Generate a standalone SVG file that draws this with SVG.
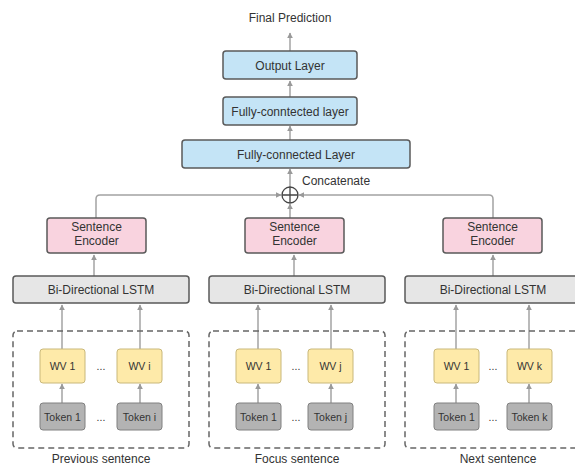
<svg xmlns="http://www.w3.org/2000/svg" width="575" height="463" viewBox="0 0 575 463">
<defs>
<style>
text{font-family:"Liberation Sans",Arial,sans-serif;fill:#333;text-anchor:middle}
.t12{font-size:12px}
.t11{font-size:11px}
.t10{font-size:10.5px}
.box{stroke:#5a5a5a;stroke-width:1.5}
.blue{fill:#c4e4f6}
.pink{fill:#f9d3df}
.lstm{fill:#e6e6e6}
.wv{fill:#feeaa9;stroke:#c9b87a;stroke-width:1}
.tok{fill:#b3b3b3;stroke:#808080;stroke-width:1}
.dash{fill:none;stroke:#666;stroke-width:1.5;stroke-dasharray:6 4}
.conn{fill:none;stroke:#a3a3a3;stroke-width:1.5;marker-end:url(#ah)}
</style>
<marker id="ah" viewBox="0 0 10 10" refX="9" refY="5" markerWidth="6" markerHeight="6" markerUnits="userSpaceOnUse" orient="auto">
<path d="M0,0 L10,5 L0,10 z" fill="#999"/>
</marker>
</defs>
<rect width="575" height="463" fill="#fff"/>

<g id="connectors">
<path class="conn" d="M290,51 V33"/>
<path class="conn" d="M290,97 V81"/>
<path class="conn" d="M290,140 V126"/>
<path class="conn" d="M290,187 V169"/>
<path class="conn" d="M96,218 V199 Q96,195 100,195 H281"/>
<path class="conn" d="M493,218 V199 Q493,195 489,195 H299"/>
<path class="conn" d="M290,218 V204"/>
<path class="conn" d="M94,276 V255"/>
<path class="conn" d="M294,276 V255"/>
<path class="conn" d="M493,276 V255"/>
<path class="conn" d="M62,349 V305"/>
<path class="conn" d="M140,349 V305"/>
<path class="conn" d="M258,349 V305"/>
<path class="conn" d="M331,349 V305"/>
<path class="conn" d="M456,349 V305"/>
<path class="conn" d="M529,349 V305"/>
<path class="conn" d="M62,403 V384"/>
<path class="conn" d="M140,403 V384"/>
<path class="conn" d="M258,403 V384"/>
<path class="conn" d="M331,403 V384"/>
<path class="conn" d="M456,403 V384"/>
<path class="conn" d="M529,403 V384"/>
</g>

<g id="final-prediction"><text class="t12" x="290" y="22">Final Prediction</text></g>
<g id="output-layer"><rect class="box blue" x="223" y="51" width="134" height="28" rx="3"/><text class="t12" x="290" y="69.5">Output Layer</text></g>
<g id="fc-layer-small"><rect class="box blue" x="223" y="97" width="134" height="28" rx="3"/><text class="t12" x="290" y="115.5">Fully-conntected layer</text></g>
<g id="fc-layer"><rect class="box blue" x="182" y="140" width="228" height="28" rx="3"/><text class="t12" x="296" y="158.5">Fully-connected Layer</text></g>
<g id="concat">
<circle cx="290" cy="195" r="8" fill="#fff" stroke="#444" stroke-width="1.3"/>
<path d="M282,195 H298 M290,187 V203" stroke="#444" stroke-width="1.3"/>
<text class="t12" x="302" y="185" style="text-anchor:start">Concatenate</text>
</g>

<g id="se-prev"><rect class="box pink" x="47" y="218" width="99" height="35" rx="3"/><text class="t12" x="96.5" y="231">Sentence</text><text class="t12" x="96.5" y="245">Encoder</text></g>
<g id="se-focus"><rect class="box pink" x="245" y="218" width="99" height="35" rx="3"/><text class="t12" x="294.5" y="231">Sentence</text><text class="t12" x="294.5" y="245">Encoder</text></g>
<g id="se-next"><rect class="box pink" x="443" y="218" width="99" height="35" rx="3"/><text class="t12" x="492.5" y="231">Sentence</text><text class="t12" x="492.5" y="245">Encoder</text></g>

<g id="lstm-prev"><rect class="box lstm" x="13" y="276" width="176" height="27" rx="3"/><text class="t12" x="101" y="293.5">Bi-Directional LSTM</text></g>
<g id="lstm-focus"><rect class="box lstm" x="209" y="276" width="176" height="27" rx="3"/><text class="t12" x="297" y="293.5">Bi-Directional LSTM</text></g>
<g id="lstm-next"><rect class="box lstm" x="405" y="276" width="176" height="27" rx="3"/><text class="t12" x="493" y="293.5">Bi-Directional LSTM</text></g>

<g id="prev-sentence">
<rect class="dash" x="13" y="331" width="176" height="117" rx="4"/>
<text class="t12" x="101" y="463">Previous sentence</text>
</g>
<g id="focus-sentence">
<rect class="dash" x="209" y="331" width="176" height="117" rx="4"/>
<text class="t12" x="297" y="463">Focus sentence</text>
</g>
<g id="next-sentence">
<rect class="dash" x="405" y="331" width="176" height="117" rx="4"/>
<text class="t12" x="498" y="463">Next sentence</text>
</g>

<g id="wv-prev-1"><rect class="wv" x="40" y="349" width="45" height="34" rx="3"/><text class="t10" x="62.5" y="370">WV 1</text></g>
<g id="wv-prev-i"><rect class="wv" x="117" y="349" width="45" height="34" rx="3"/><text class="t10" x="139.5" y="370">WV i</text></g>
<g id="wv-focus-1"><rect class="wv" x="236" y="349" width="45" height="34" rx="3"/><text class="t10" x="258.5" y="370">WV 1</text></g>
<g id="wv-focus-j"><rect class="wv" x="308" y="349" width="45" height="34" rx="3"/><text class="t10" x="330.5" y="370">WV j</text></g>
<g id="wv-next-1"><rect class="wv" x="434" y="349" width="45" height="34" rx="3"/><text class="t10" x="456.5" y="370">WV 1</text></g>
<g id="wv-next-k"><rect class="wv" x="507" y="349" width="45" height="34" rx="3"/><text class="t10" x="529.5" y="370">WV k</text></g>

<g id="tok-prev-1"><rect class="tok" x="40" y="403" width="45" height="27" rx="3"/><text class="t10" x="62.5" y="420.5">Token 1</text></g>
<g id="tok-prev-i"><rect class="tok" x="117" y="403" width="45" height="27" rx="3"/><text class="t10" x="139.5" y="420.5">Token i</text></g>
<g id="tok-focus-1"><rect class="tok" x="236" y="403" width="45" height="27" rx="3"/><text class="t10" x="258.5" y="420.5">Token 1</text></g>
<g id="tok-focus-j"><rect class="tok" x="308" y="403" width="45" height="27" rx="3"/><text class="t10" x="330.5" y="420.5">Token j</text></g>
<g id="tok-next-1"><rect class="tok" x="434" y="403" width="45" height="27" rx="3"/><text class="t10" x="456.5" y="420.5">Token 1</text></g>
<g id="tok-next-k"><rect class="tok" x="507" y="403" width="45" height="27" rx="3"/><text class="t10" x="529.5" y="420.5">Token k</text></g>

<g id="ellipses">
<text class="t10" x="101" y="370">...</text>
<text class="t10" x="101" y="420.5">...</text>
<text class="t10" x="296" y="370">...</text>
<text class="t10" x="296" y="420.5">...</text>
<text class="t10" x="493" y="370">...</text>
<text class="t10" x="493" y="420.5">...</text>
</g>
</svg>
